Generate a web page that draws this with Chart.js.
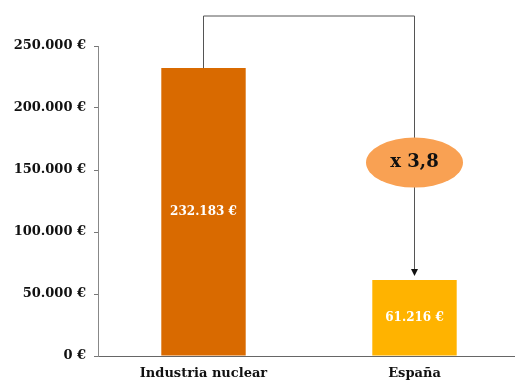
<!DOCTYPE html>
<html>
<head>
<meta charset="utf-8">
<script src="https://cdn.jsdelivr.net/npm/chart.js@4"></script>
<style>
  html, body { margin: 0; padding: 0; background: #fff; overflow: hidden; }
  #wrap { width: 520px; height: 381px; }
</style>
</head>
<body>
<div id="wrap"><canvas id="costChart"></canvas></div>
<script>
// Coste medio por trabajador
const categories = ['Industria nuclear', 'España'];
const values = [232183, 61216];
const barColors = ['#D96A00', '#FFB300'];
const yTicks = [0, 50000, 100000, 150000, 200000, 250000];

const FONT = '"DejaVu Serif", Georgia, serif';

function euro(v) {
  return v.toLocaleString('de-DE') + ' €';
}

// bracket from the first bar down to the second, with the ratio bubble
const ratioPlugin = {
  id: 'ratio',
  afterDatasetsDraw(chart) {
    const ctx = chart.ctx;
    const meta = chart.getDatasetMeta(0);
    const b1 = meta.data[0], b2 = meta.data[1];
    const topY = chart.chartArea.top - 30;
    const x1 = Math.round(b1.x) - 0.5, x2 = Math.round(b2.x) - 0.5;
    const tipY = b2.y - 4;

    ctx.save();
    ctx.strokeStyle = '#555';
    ctx.lineWidth = 1;
    ctx.beginPath();
    ctx.moveTo(x1, b1.y);
    ctx.lineTo(x1, topY);
    ctx.lineTo(x2, topY);
    ctx.lineTo(x2, tipY - 6);
    ctx.stroke();

    ctx.fillStyle = '#111';
    ctx.beginPath();
    ctx.moveTo(x2 - 3.5, tipY - 7);
    ctx.lineTo(x2 + 3.5, tipY - 7);
    ctx.lineTo(x2, tipY);
    ctx.closePath();
    ctx.fill();

    // ellipse with the ratio
    const cy = chart.scales.y.getPixelForValue(156000);
    ctx.fillStyle = '#F9A153';
    ctx.beginPath();
    ctx.ellipse(x2, cy, 48.5, 25, 0, 0, Math.PI * 2);
    ctx.fill();

    const ratio = (values[0] / values[1]).toFixed(1).replace('.', ',');
    ctx.fillStyle = '#111';
    ctx.font = 'bold 18px ' + FONT;
    ctx.textAlign = 'center';
    ctx.textBaseline = 'middle';
    ctx.fillText('x ' + ratio, x2, cy);

    // value labels inside the bars
    ctx.fillStyle = '#fff';
    ctx.font = 'bold 12px ' + FONT;
    meta.data.forEach((bar, i) => {
      ctx.fillText(euro(values[i]), bar.x, (bar.y + bar.base) / 2);
    });
    ctx.restore();
  }
};

new Chart(document.getElementById('costChart'), {
  type: 'bar',
  data: {
    labels: categories,
    datasets: [{
      data: values,
      backgroundColor: barColors,
      borderWidth: 0,
      barPercentage: 0.4,
      categoryPercentage: 1
    }]
  },
  options: {
    responsive: true,
    maintainAspectRatio: false,
    animation: false,
    layout: { padding: { top: 46, right: 0, left: 0, bottom: 0 } },
    plugins: {
      legend: { display: false },
      tooltip: { enabled: false }
    },
    scales: {
      x: {
        grid: { display: false },
        border: { color: '#666', width: 1 },
        ticks: {
          color: '#111',
          font: { family: FONT, size: 13, weight: 'bold' },
          padding: 2
        },
        afterFit(scale) { scale.height = 25; }
      },
      y: {
        min: 0,
        max: 250000,
        afterBuildTicks(scale) { scale.ticks = yTicks.map(v => ({ value: v })); },
        grid: { drawOnChartArea: false, tickLength: 4, color: '#777' },
        border: { color: '#888', width: 1 },
        ticks: {
          color: '#111',
          font: { family: FONT, size: 13, weight: 'bold' },
          padding: 8,
          callback: v => euro(v)
        },
        afterFit(scale) { scale.width = 98; }
      }
    }
  },
  plugins: [ratioPlugin]
});
</script>
</body>
</html>
